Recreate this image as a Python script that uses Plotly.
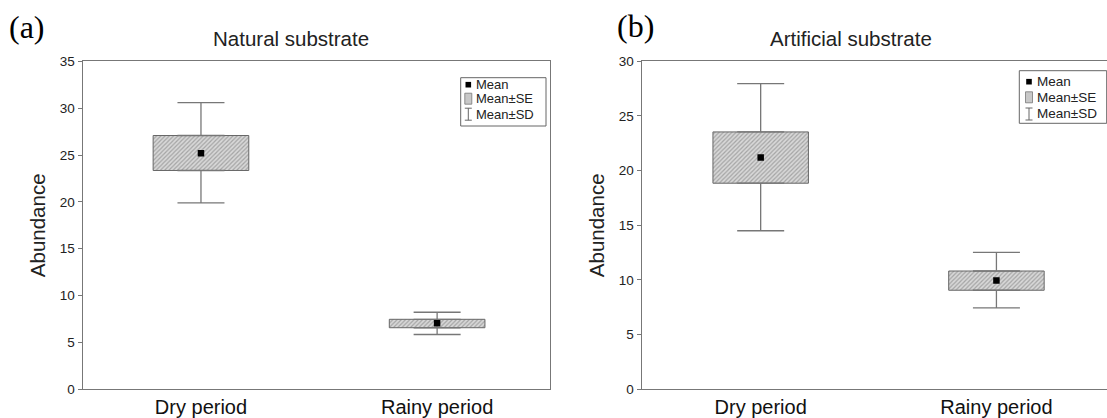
import plotly.graph_objects as go

# ---- data ----
categories = ["Dry period", "Rainy period"]

nat_mean = [25.2, 7.05]
nat_se_lo = [23.35, 6.57]
nat_se_hi = [27.08, 7.47]
nat_sd_lo = [19.9, 5.85]
nat_sd_hi = [30.6, 8.22]

art_mean = [21.2, 9.94]
art_se_lo = [18.85, 9.06]
art_se_hi = [23.54, 10.82]
art_sd_lo = [14.5, 7.44]
art_sd_hi = [27.96, 12.53]

panel_titles = ["Natural substrate", "Artificial substrate"]
panel_tags = ["(a)", "(b)"]
legend_labels = ["Mean", "Mean±SE", "Mean±SD"]
y_label = "Abundance"

FONT = "Liberation Sans, Arial, sans-serif"
AXC = "#777777"
W, H = 1107, 418


def PX(x):
    return x / W


def PY(y):
    return (H - y) / H


fig = go.Figure()


def add_panel(xa, ya, mean, se_lo, se_hi, sd_lo, sd_hi):
    # SE box
    fig.add_trace(go.Bar(
        x=categories, y=[h - l for h, l in zip(se_hi, se_lo)], base=se_lo,
        width=0.405, xaxis=xa, yaxis=ya, name=legend_labels[1], showlegend=False,
        marker=dict(color="#d0d0d0",
                    pattern=dict(shape="/", fgcolor="#707070", bgcolor="#d8d8d8",
                                 size=3, solidity=0.4),
                    line=dict(color="#666666", width=1)),
        hoverinfo="skip"))
    # SD whiskers (upper part, from box top)
    fig.add_trace(go.Scatter(
        x=categories, y=se_hi, mode="markers", xaxis=xa, yaxis=ya,
        marker=dict(opacity=0, size=2), showlegend=False, hoverinfo="skip",
        name=legend_labels[2],
        error_y=dict(type="data", symmetric=False,
                     array=[s - h for s, h in zip(sd_hi, se_hi)],
                     arrayminus=[0 for _ in se_hi],
                     width=23.5, thickness=1.3, color=AXC)))
    # SD whiskers (lower part, from box bottom)
    fig.add_trace(go.Scatter(
        x=categories, y=se_lo, mode="markers", xaxis=xa, yaxis=ya,
        marker=dict(opacity=0, size=2), showlegend=False, hoverinfo="skip",
        name=legend_labels[2],
        error_y=dict(type="data", symmetric=False,
                     array=[0 for _ in se_lo],
                     arrayminus=[l - s for l, s in zip(se_lo, sd_lo)],
                     width=23.5, thickness=1.3, color=AXC)))
    # mean
    fig.add_trace(go.Scatter(
        x=categories, y=mean, mode="markers", xaxis=xa, yaxis=ya,
        name=legend_labels[0], showlegend=False,
        marker=dict(symbol="square", size=6.5, color="black")))


add_panel("x", "y", nat_mean, nat_se_lo, nat_se_hi, nat_sd_lo, nat_sd_hi)
add_panel("x2", "y2", art_mean, art_se_lo, art_se_hi, art_sd_lo, art_sd_hi)

ydom = [PY(389.3), PY(61.3)]

xcommon = dict(showline=True, linecolor=AXC, linewidth=1.3, ticks="",
               showgrid=False, zeroline=False, automargin=False,
               tickfont=dict(family=FONT, size=20, color="#111111"))
ycommon = dict(showline=True, linecolor=AXC, linewidth=1.3, ticks="outside",
               ticklen=4, tickcolor=AXC, showgrid=False, zeroline=False,
               automargin=False, dtick=5,
               tickfont=dict(family=FONT, size=13.5, color="#222222"),
               title=dict(text=y_label, font=dict(family=FONT, size=20.5, color="#222222"),
                          standoff=8))

fig.update_layout(
    width=W, height=H, autosize=False,
    margin=dict(l=0, r=0, t=0, b=0),
    paper_bgcolor="white", plot_bgcolor="white",
    barmode="overlay", showlegend=False,
    xaxis=dict(domain=[PX(82.7), PX(550)], range=[-0.5008, 1.478], anchor="y",
               mirror=True, **xcommon),
    yaxis=dict(domain=ydom, range=[0, 35], anchor="x", mirror=True, **ycommon),
    xaxis2=dict(domain=[PX(641.7), 1.0], range=[-0.5047, 1.469], anchor="y2",
                mirror=True, **xcommon),
    yaxis2=dict(domain=ydom, range=[0, 30], anchor="x2", mirror=False, **ycommon),
)

# panel titles and tags
for xc, title in zip([291.4, 850.7], panel_titles):
    fig.add_annotation(x=PX(xc), y=PY(38.5), xref="paper", yref="paper",
                       text=title, showarrow=False, xanchor="center", yanchor="middle",
                       font=dict(family=FONT, size=20.5, color="#222222"))
for xc, yc, tag in zip([26.7, 635.5], [27, 26], panel_tags):
    fig.add_annotation(x=PX(xc), y=PY(yc), xref="paper", yref="paper",
                       text=tag, showarrow=False, xanchor="center", yanchor="middle",
                       font=dict(family="Liberation Serif, Times New Roman, serif",
                                 size=32, color="black"))


# hand-drawn legends (box, symbols, labels)
def draw_legend(left, top, w, h, rows, icon_dx, text_dx, fsize):
    fig.add_shape(type="rect", xref="paper", yref="paper",
                  x0=PX(left), x1=PX(left + w), y0=PY(top + h), y1=PY(top),
                  line=dict(color="#666666", width=1), fillcolor="white")
    ix = left + icon_dx
    r0, r1, r2 = (top + r for r in rows)
    # mean square
    fig.add_shape(type="rect", xref="paper", yref="paper",
                  x0=PX(ix - 2.8), x1=PX(ix + 2.8), y0=PY(r0 + 2.8), y1=PY(r0 - 2.8),
                  line=dict(width=0), fillcolor="black")
    # SE box
    fig.add_shape(type="rect", xref="paper", yref="paper",
                  x0=PX(ix - 3.5), x1=PX(ix + 3.5), y0=PY(r1 + 5.5), y1=PY(r1 - 5.5),
                  line=dict(color="#777777", width=0.8), fillcolor="#c8c8c8")
    # SD I-beam
    for (xa, ya, xb, yb) in [(ix, r2 - 6, ix, r2 + 6),
                             (ix - 3.5, r2 - 6, ix + 3.5, r2 - 6),
                             (ix - 3.5, r2 + 6, ix + 3.5, r2 + 6)]:
        fig.add_shape(type="line", xref="paper", yref="paper",
                      x0=PX(xa), y0=PY(ya), x1=PX(xb), y1=PY(yb),
                      line=dict(color="#666666", width=1))
    for ry, lab in zip([r0, r1, r2], legend_labels):
        fig.add_annotation(x=PX(left + text_dx), y=PY(ry), xref="paper", yref="paper",
                           text=lab, showarrow=False, xanchor="left", yanchor="middle",
                           font=dict(family=FONT, size=fsize, color="#222222"))


draw_legend(460.7, 77.7, 85.3, 48.3, [7, 21, 36.5], 7.6, 13.5, 13)
draw_legend(1019.3, 70.7, 87.4, 52.6, [11, 26.6, 43.3], 9.7, 15.5, 13.5)

fig.write_html("out.html", post_script="document.body.style.margin='0px';",
               config={"displayModeBar": False})
